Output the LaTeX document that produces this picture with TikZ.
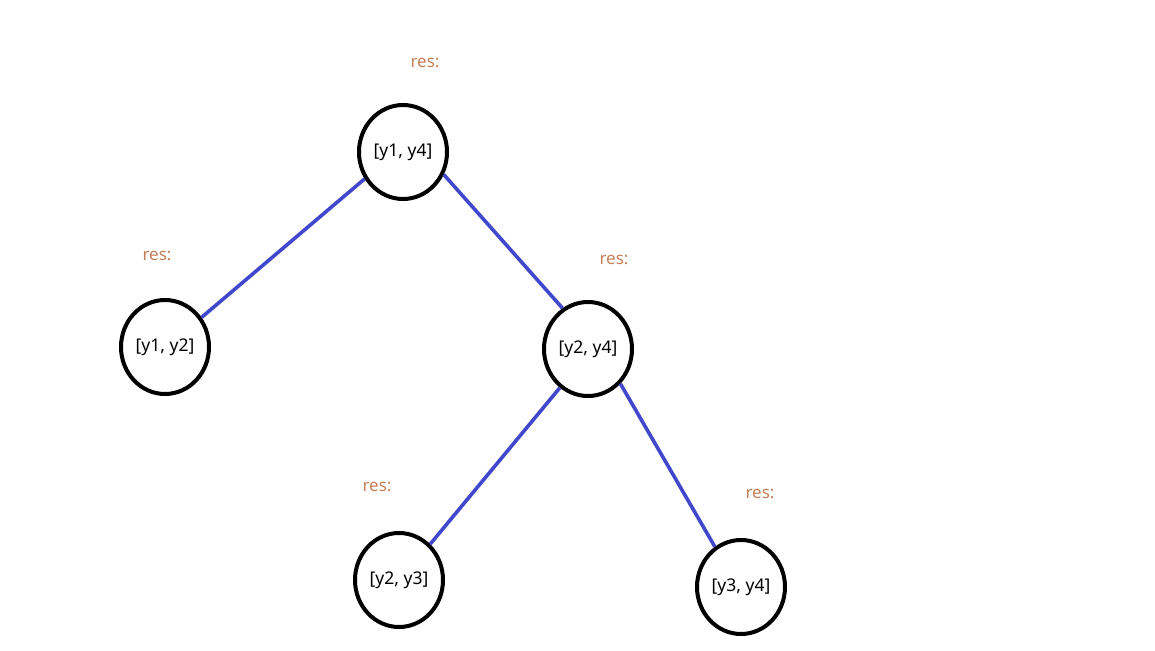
\documentclass[tikz,border=0pt]{standalone}
\usepackage{fontspec}
\setmainfont{Noto Sans}
\usetikzlibrary{shapes.geometric}
\definecolor{edgeblue}{RGB}{66,72,204}
\definecolor{resbrown}{RGB}{196,128,88}
\tikzset{
  tnode/.style={ellipse, draw=black, line width=4pt, minimum width=88pt, minimum height=94pt, inner sep=0pt, fill=white, font=\fontsize{17.5}{20}\selectfont},
  reslabel/.style={text=resbrown, font=\fontsize{17}{20}\selectfont},
  tedge/.style={draw=edgeblue, line width=3.6pt}
}
\begin{document}
\begin{tikzpicture}[x=1pt,y=-1pt]
\useasboundingbox (0,0) rectangle (1155,650);
\node[tnode] (a) at (403,152) {[y1, y4]};
\node[tnode] (b) at (165,347) {[y1, y2]};
\node[tnode] (c) at (588,349) {[y2, y4]};
\node[tnode] (d) at (399,580) {[y2, y3]};
\node[tnode] (e) at (741,587) {[y3, y4]};
\node[reslabel] (ra) at (425,63) {res:};
\node[reslabel] (rb) at (157,256) {res:};
\node[reslabel] (rc) at (614,260) {res:};
\node[reslabel] (rd) at (377,487) {res:};
\node[reslabel] (re) at (760,494) {res:};
\draw[tedge] (a.215.7) -- (b.39.6);
\draw[tedge] (a.331) -- (c.122);
\draw[tedge] (c.234.2) -- (d.49.1);
\draw[tedge] (c.313.3) -- (e.123.7);
\end{tikzpicture}
\end{document}
